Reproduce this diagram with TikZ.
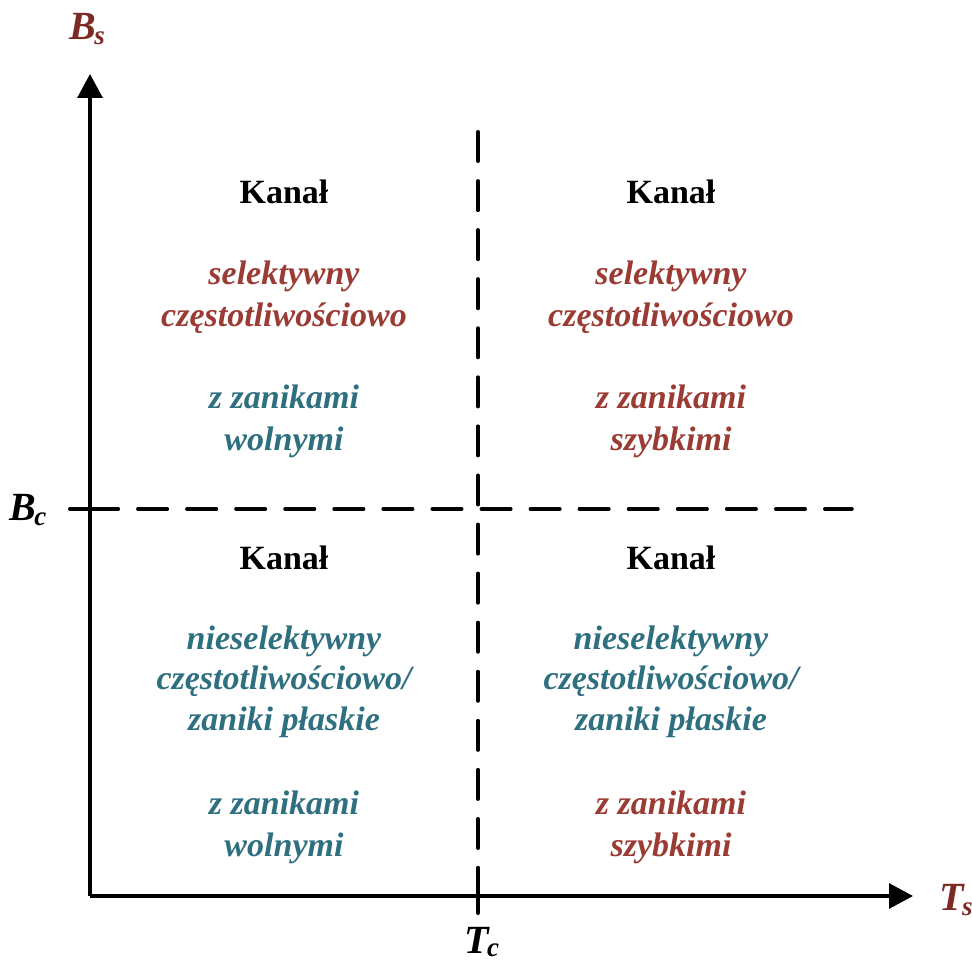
\documentclass[tikz,border=0pt]{standalone}
\usepackage{fontspec}
\setmainfont{Liberation Serif}
\usetikzlibrary{arrows.meta}
\definecolor{redtxt}{HTML}{9A3B34}
\definecolor{teal}{HTML}{2E6F80}
\definecolor{axlab}{HTML}{7D2B22}
\tikzset{
  ax/.style={line width=3.2pt},
  dashline/.style={line width=3.5pt, line cap=round, dash pattern=on 29.5pt off 19.57pt},
  solidpart/.style={line width=3.5pt, line cap=round},
  txt/.style={anchor=base, inner sep=0pt, font=\fontsize{34}{41}\selectfont},
  kan/.style={txt, font=\fontsize{34}{41}\selectfont\bfseries},
  rd/.style={txt, text=redtxt, font=\fontsize{34}{41}\selectfont\bfseries\itshape},
  tl/.style={txt, text=teal, font=\fontsize{34}{41}\selectfont\bfseries\itshape},
  lab/.style={anchor=base west, inner sep=0pt, font=\fontsize{40}{44}\selectfont\bfseries\itshape},
}
\newcommand{\subsc}[2][-5pt]{\kern-1.5pt\raisebox{#1}{\fontsize{27}{27}\selectfont #2}}
\begin{document}
\begin{tikzpicture}[x=1pt,y=-1pt]
\useasboundingbox (0,0) rectangle (972,960);
% axes
\coordinate (O) at (90,896);
\coordinate (Ytop) at (90,74);
\coordinate (Xend) at (913,896);
\draw[ax, -{Triangle[length=24pt,width=25pt]}] (O) -- (Ytop);
\draw[ax, -{Triangle[length=24pt,width=25pt]}] (O) -- (Xend);
% dashed lines
\coordinate (h1) at (88.75,509);
\coordinate (h2) at (852,509);
\coordinate (h0) at (69.75,509);
\coordinate (h0b) at (118,509);
\draw[dashline] (h1) -- (h2);
\draw[solidpart] (h0) -- (h0b);
\coordinate (v1) at (478,131.75);
\coordinate (v2) at (478,895);
\coordinate (v3) at (478,867.75);
\coordinate (v4) at (478,913.25);
\draw[dashline] (v1) -- (v2);
\draw[solidpart] (v3) -- (v4);
% axis labels
\node[lab, text=axlab] (Bs) at (69,40) {B\subsc{s}};
\node[lab, text=axlab] (Ts) at (939,910) {T\subsc{s}};
\node[lab] (Bc) at (9,520) {B\subsc{c}};
\node[lab] (Tc) at (464,953) {T\subsc[-3pt]{c}};
% top-left
\node[kan] (k1) at (284,204) {Kanał};
\node[rd] (a1) at (284,284) {selektywny};
\node[rd] (a2) at (284,326) {częstotliwościowo};
\node[tl] (a3) at (284,408) {z zanikami};
\node[tl] (a4) at (284,450) {wolnymi};
% top-right
\node[kan] (k2) at (671,204) {Kanał};
\node[rd] (b1) at (671,284) {selektywny};
\node[rd] (b2) at (671,326) {częstotliwościowo};
\node[rd] (b3) at (671,408) {z zanikami};
\node[rd] (b4) at (671,450) {szybkimi};
% bottom-left
\node[kan] (k3) at (284,569) {Kanał};
\node[tl] (c1) at (284,649) {nieselektywny};
\node[tl] (c2) at (284,689) {częstotliwościowo/};
\node[tl] (c3) at (284,730) {zaniki płaskie};
\node[tl] (c4) at (284,814) {z zanikami};
\node[tl] (c5) at (284,856) {wolnymi};
% bottom-right
\node[kan] (k4) at (671,569) {Kanał};
\node[tl] (d1) at (671,649) {nieselektywny};
\node[tl] (d2) at (671,689) {częstotliwościowo/};
\node[tl] (d3) at (671,730) {zaniki płaskie};
\node[rd] (d4) at (671,814) {z zanikami};
\node[rd] (d5) at (671,856) {szybkimi};
\end{tikzpicture}
\end{document}
